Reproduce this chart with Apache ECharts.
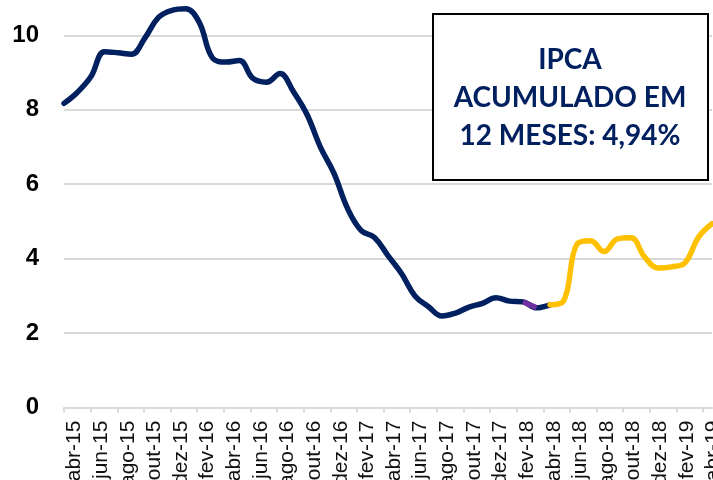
<!DOCTYPE html>
<html>
<head>
<meta charset="utf-8">
<script src="https://cdn.jsdelivr.net/npm/echarts@6/dist/echarts.min.js"></script>
<style>
  html, body { margin: 0; padding: 0; background: #fff; }
  #chart { width: 713px; height: 480px; }
</style>
</head>
<body>
<div id="chart"></div>
<script>
// meses (abr-15 a abr-19)
const months = [
  'abr-15', 'mai-15', 'jun-15', 'jul-15', 'ago-15', 'set-15', 'out-15', 'nov-15', 'dez-15',
  'jan-16', 'fev-16', 'mar-16', 'abr-16', 'mai-16', 'jun-16', 'jul-16', 'ago-16', 'set-16', 'out-16', 'nov-16', 'dez-16',
  'jan-17', 'fev-17', 'mar-17', 'abr-17', 'mai-17', 'jun-17', 'jul-17', 'ago-17', 'set-17', 'out-17', 'nov-17', 'dez-17',
  'jan-18', 'fev-18', 'mar-18', 'abr-18', 'mai-18', 'jun-18', 'jul-18', 'ago-18', 'set-18', 'out-18', 'nov-18', 'dez-18',
  'jan-19', 'fev-19', 'mar-19', 'abr-19'
]

// IPCA acumulado em 12 meses (%)
const ipca = [
  8.17, 8.47, 8.89, 9.56, 9.53, 9.49, 9.93, 10.48, 10.67,
  10.71, 10.36, 9.39, 9.28, 9.32, 8.84, 8.74, 8.97, 8.48, 7.87, 6.99, 6.29,
  5.35, 4.76, 4.57, 4.08, 3.60, 3.00, 2.71, 2.46, 2.54, 2.70, 2.80, 2.95,
  2.86, 2.84, 2.68, 2.76, 2.86, 4.39, 4.48, 4.19, 4.53, 4.56, 4.05, 3.75,
  3.78, 3.89, 4.58, 4.94
]

// trechos da linha
const navyRange = ['abr-15', 'abr-18']
const purpleRange = ['fev-18', 'mar-18']
const yellowRange = ['abr-18', 'abr-19']

const yTicks = [0, 2, 4, 6, 8, 10, 12]

const boxLines = ['IPCA', 'ACUMULADO EM', '12 MESES: 4,94%']

function slice(range) {
  const a = months.indexOf(range[0])
  const b = months.indexOf(range[1])
  return ipca.map((v, i) => (i >= a && i <= b ? v : null))
}

const chart = echarts.init(document.getElementById('chart'))

const gridTop = -39.2
const gridHeight = 446.8

chart.setOption({
  backgroundColor: '#fff',
  animation: false,
  grid: [
    // eixo com rótulos
    { left: 64, right: 10, top: gridTop, height: gridHeight, outerBoundsMode: 'none' },
    // linhas
    { left: 64, right: 1, top: gridTop, height: gridHeight, outerBoundsMode: 'none' }
  ],
  xAxis: [
    {
      gridIndex: 0,
      type: 'category',
      data: months,
      boundaryGap: false,
      axisLine: { show: false },
      axisTick: { show: true, interval: 1, length: 5, lineStyle: { color: '#d9d9d9', width: 2 } },
      axisLabel: {
        interval: 1,
        rotate: 90,
        margin: 13,
        verticalAlign: 'top',
        color: '#111',
        fontSize: 21,
        fontFamily: 'Liberation Sans'
      },
      splitLine: { show: false }
    },
    {
      gridIndex: 1,
      type: 'category',
      data: months,
      boundaryGap: false,
      axisLine: { show: true, lineStyle: { color: '#d9d9d9', width: 2 } },
      axisTick: { show: false },
      axisLabel: { show: false },
      splitLine: { show: false }
    }
  ],
  yAxis: [
    {
      gridIndex: 0,
      type: 'value',
      min: yTicks[0],
      max: yTicks[yTicks.length - 1],
      interval: 2,
      axisLine: { show: false },
      axisTick: { show: false },
      splitLine: { show: false },
      axisLabel: {
        margin: 25,
        color: '#000',
        fontSize: 24,
        fontWeight: 'bold',
        fontFamily: 'Liberation Sans'
      }
    },
    {
      gridIndex: 1,
      type: 'value',
      min: yTicks[0],
      max: yTicks[yTicks.length - 1],
      interval: 2,
      axisLine: { show: false },
      axisTick: { show: false },
      axisLabel: { show: false },
      splitLine: { show: true, lineStyle: { color: '#d9d9d9', width: 2 } }
    }
  ],
  series: [
    {
      name: 'IPCA',
      type: 'line',
      xAxisIndex: 1,
      yAxisIndex: 1,
      data: slice(navyRange),
      smooth: 0.4,
      showSymbol: false,
      lineStyle: { color: '#002060', width: 5.5, cap: 'round' },
      z: 3
    },
    {
      name: 'IPCA destaque',
      type: 'line',
      xAxisIndex: 1,
      yAxisIndex: 1,
      data: slice(purpleRange),
      smooth: 0.4,
      showSymbol: false,
      lineStyle: { color: '#7030a0', width: 5.5 },
      z: 4
    },
    {
      name: 'IPCA recente',
      type: 'line',
      xAxisIndex: 1,
      yAxisIndex: 1,
      data: slice(yellowRange),
      smooth: 0.4,
      showSymbol: false,
      lineStyle: { color: '#ffc000', width: 5.5, cap: 'round' },
      z: 5
    }
  ],
  graphic: [
    {
      type: 'rect',
      z: 100,
      shape: { x: 433, y: 14, width: 275, height: 166 },
      style: { fill: '#fff', stroke: '#000', lineWidth: 2 }
    },
    {
      type: 'text',
      z: 101,
      x: 570,
      y: 98,
      style: {
        text: boxLines.join('\n'),
        align: 'center',
        verticalAlign: 'middle',
        fill: '#002060',
        font: 'bold 28px Lato',
        lineHeight: 38
      }
    }
  ]
})
</script>
</body>
</html>
